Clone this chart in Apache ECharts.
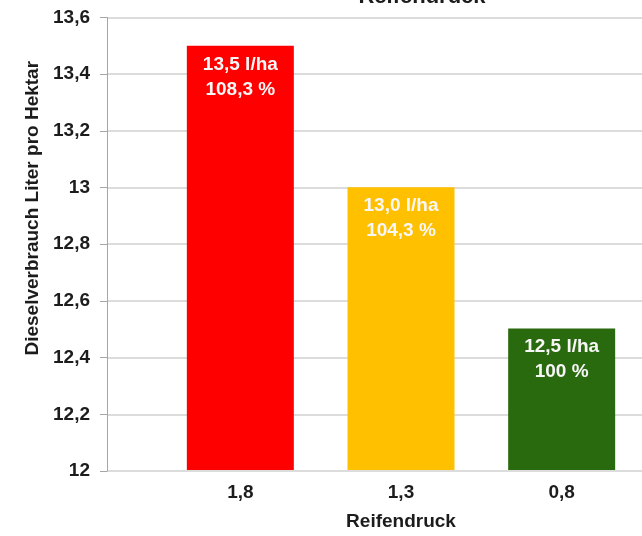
<!DOCTYPE html>
<html>
<head>
<meta charset="utf-8">
<script src="https://cdn.jsdelivr.net/npm/echarts@6/dist/echarts.min.js"></script>
<style>
  html, body { margin: 0; padding: 0; background: #ffffff; }
  #chart { width: 642px; height: 536px; }
</style>
</head>
<body>
<div id="chart"></div>
<script>
// Tyre pressure (bar) vs. diesel consumption per hectare
const categories = ['1,8', '1,3', '0,8'];
const consumption = [13.5, 13.0, 12.5];
const relative = ['108,3 %', '104,3 %', '100 %'];
const barColors = ['#ff0000', '#ffc000', '#2a6a0e'];

const FONT = '"Liberation Sans", Arial, sans-serif';
const TEXT = '#1c1c1c';
const fmt = v => String(v).replace('.', ',');

const chart = echarts.init(document.getElementById('chart'), null, { renderer: 'canvas' });

chart.setOption({
  animation: false,
  backgroundColor: '#ffffff',
  title: {
    text: 'Reifendruck',
    left: 417,
    top: -19,
    textAlign: 'center',
    textStyle: { fontFamily: FONT, fontSize: 22, fontWeight: 'bold', color: TEXT }
  },
  grid: [
    // value axis and gridlines
    { left: 107, right: 0, top: 17.5, bottom: 65 },
    // bars
    { left: 160, width: 488, top: 17.5, bottom: 65 }
  ],
  xAxis: [
    { gridIndex: 0, type: 'category', data: categories, show: false },
    {
      gridIndex: 1,
      type: 'category',
      data: categories,
      axisLine: { show: false },
      axisTick: { show: false },
      axisLabel: { margin: 13, fontFamily: FONT, fontSize: 19, fontWeight: 'bold', color: TEXT },
      name: 'Reifendruck',
      nameLocation: 'middle',
      nameGap: 42,
      nameTextStyle: { fontFamily: FONT, fontSize: 19, fontWeight: 'bold', color: TEXT }
    }
  ],
  yAxis: [
    {
      gridIndex: 0,
      type: 'value',
      min: 12,
      max: 13.6,
      interval: 0.2,
      axisLine: { show: true, lineStyle: { color: '#a6a6a6', width: 1 } },
      axisTick: { show: true, length: 7, lineStyle: { color: '#a6a6a6' } },
      splitLine: { show: true, lineStyle: { color: '#d0d0d0', width: 1.5 } },
      axisLabel: {
        margin: 17,
        formatter: fmt,
        fontFamily: FONT, fontSize: 19, fontWeight: 'bold', color: TEXT
      },
      name: 'Dieselverbrauch Liter pro Hektar',
      nameLocation: 'middle',
      nameGap: 63,
      nameTextStyle: {
        fontFamily: FONT, fontSize: 19, fontWeight: 'bold', color: TEXT,
        padding: [0, 0, 0, 72]
      }
    },
    { gridIndex: 1, type: 'value', min: 12, max: 13.6, interval: 0.2, show: false }
  ],
  series: [{
    type: 'bar',
    xAxisIndex: 1,
    yAxisIndex: 1,
    barWidth: 107,
    data: consumption.map((v, i) => ({ value: v, itemStyle: { color: barColors[i] } })),
    label: {
      show: true,
      position: 'insideTop',
      distance: 6,
      formatter: p => p.value.toFixed(1).replace('.', ',') + ' l/ha\n' + relative[p.dataIndex],
      fontFamily: FONT,
      fontSize: 19,
      fontWeight: 'bold',
      lineHeight: 25,
      color: '#f7f7f7'
    }
  }]
});
</script>
</body>
</html>
